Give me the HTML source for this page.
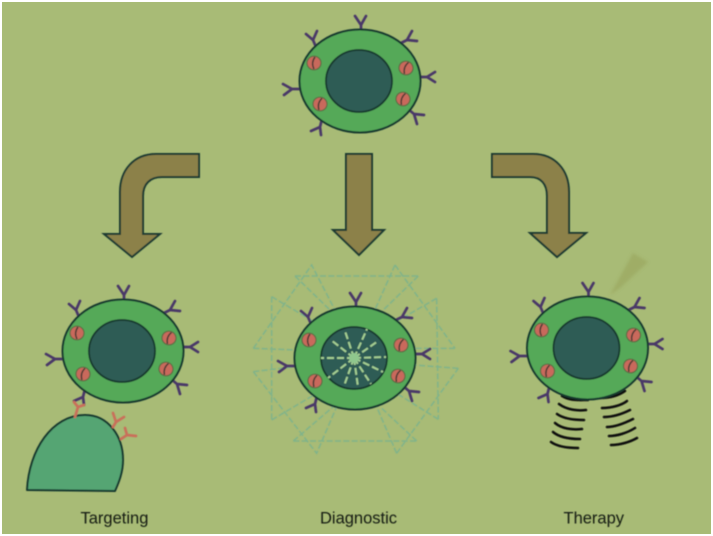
<!DOCTYPE html>
<html lang="en">
<head>
<meta charset="utf-8">
<title>Targeting, Diagnostic, Therapy</title>
<style>
html,body{margin:0;padding:0;background:#fff}
svg{display:block;width:713px;height:536px}
text{font-family:"Liberation Sans",sans-serif;font-size:16.5px;fill:#151a12}
</style>
</head>
<body>
<svg xmlns="http://www.w3.org/2000/svg" width="713" height="536" viewBox="0 0 713 536">
<defs>
<filter id="soft" x="-5%" y="-5%" width="110%" height="110%"><feGaussianBlur stdDeviation="0.45"/></filter>
<filter id="soft2" x="-30%" y="-30%" width="160%" height="160%"><feGaussianBlur stdDeviation="1.2"/></filter>
<g id="org">
<ellipse cx="0" cy="0" rx="7" ry="6.8" fill="#c9695b" stroke="#5d6a45" stroke-width="1.2"/>
<path d="M1-6C-2-2-2 2 0 6" fill="none" stroke="#4b3a35" stroke-width="1.5"/>
</g>
<g id="cell">
<g fill="none" stroke="#493768" stroke-width="2.7" stroke-linecap="round" stroke-linejoin="round">
<path d="M1-50V-56M-5-65L1-56L6-65"/>
<path d="M-44-34L-47-41M-54-47L-47-41L-43-50"/>
<path d="M41-38L47-41M52-50L47-41L57-40"/>
<path d="M60-4H67M75-9L67-4L75 1"/>
<path d="M48 28L54 33M64 34L54 33L57 43"/>
<path d="M-38 38L-40 46M-49 50L-40 46L-39 54"/>
<path d="M-60 8H-68M-77 3L-68 8L-76 14"/>
</g>
<ellipse cx="0" cy="0" rx="60.5" ry="51.5" fill="#54a958" stroke="#16392f" stroke-width="2"/>
<ellipse cx="-1" cy="0" rx="33" ry="31" fill="#2f5c54" stroke="#17382f" stroke-width="1.8"/>
<use href="#org" x="-46" y="-18"/>
<use href="#org" transform="translate(46 -13) rotate(15)"/>
<use href="#org" transform="translate(43 18) rotate(15)"/>
<use href="#org" transform="translate(-40 23) rotate(10)"/>
</g>
</defs>

<rect x="0" y="0" width="713" height="536" fill="#ffffff"/>
<rect x="2" y="2" width="709" height="532" fill="#a8bb76"/>

<g filter="url(#soft)">
<!-- top cell -->
<use href="#cell" transform="translate(360 81)"/>

<!-- arrows -->
<g fill="#8c8149" stroke="#1f3a33" stroke-width="2" stroke-linejoin="miter">
<path d="M199 154V177H162C150 177 143 184 143 196V234H160L132 257L104 234H120V192C120 170 134 154 156 154Z"/>
<path d="M346 154H372V230H384L359 255L333 230H346Z"/>
<path d="M492 154V177H530C541 177 547 184 547 196V233H530L557 257L586 233H569V192C569 170 555 154 533 154Z"/>
</g>

<!-- targeting -->
<use href="#cell" transform="translate(123 351)"/>
<path d="M27 490C29 450 52 415 85 415C108 415 123 436 123 460C123 472 119 482 115 491Z" fill="#55a573" stroke="#16392f" stroke-width="2" stroke-linejoin="round"/>
<g fill="none" stroke="#c9705a" stroke-width="2.7" stroke-linecap="round" stroke-linejoin="round">
<path d="M75 417L78 407M74 402L78 407L84 405"/>
<path d="M113 427L116 422M113 413L116 422L124 417"/>
<path d="M121 439L127 435M125 428L127 435L136 436"/>
</g>

<!-- diagnostic -->
<g transform="translate(240 260) scale(.3333)" fill="none" stroke="#80b38a" stroke-width="4.500" stroke-dasharray="18 7">
<path d="M165 48H535M160 543H530M95 110V480M590 115L595 478"/>
<path d="M95 110L230 190M95 480L230 400M590 115L460 190M595 478L470 400"/>
<path d="M40 265L215 15L290 160M465 15L645 265M465 15L400 160"/>
<path d="M40 335L230 580L290 440M470 580L655 325M470 580L410 440"/>
<path d="M40 265L170 270M40 335L165 320M645 265L520 265M655 325L520 315"/>
<path d="M165 48L270 150M535 48L430 150M160 543L280 440M530 543L420 440"/>
</g>
<use href="#cell" transform="translate(355 358)"/>
<g fill="none" stroke="#a5cf93" stroke-width="2" stroke-dasharray="7 3">
<path d="M354 358L331 340M354 358L345 331M354 358L367 329M354 358L378 341M354 358L386 357M354 358L383 372M354 358L371 384M354 358L358 387M354 358L344 386M354 358L328 378M354 358L321 358"/>
</g>
<circle cx="354" cy="358" r="5" fill="#8fc78d"/>

<!-- therapy -->
<path d="M633 253L648 262L620 288L610 295Z" fill="#9fad66" filter="url(#soft2)"/>
<g fill="none" stroke="#0e0f0c" stroke-width="2.5" stroke-linecap="round">
<path d="M562 396C570 401 578 400 588 400M600 398C610 398 618 396 625 391"/>
<path d="M559 404C567 410 578 411 586 410M602 408C612 408 622 405 627 401"/>
<path d="M557 414C564 419 575 420 584 420M604 417C612 417 622 414 630 410"/>
<path d="M555 423C562 429 573 430 582 429M607 427C615 427 625 423 633 419"/>
<path d="M553 432C560 438 571 439 580 439M609 436C617 436 627 433 635 428"/>
<path d="M551 442C558 447 569 448 578 448M611 445C620 445 630 442 637 438"/>
</g>
<use href="#cell" transform="translate(587.5 348)"/>

<text x="80.500" y="523.500">Targeting</text>
<text x="320" y="523.500">Diagnostic</text>
<text x="563.500" y="523.500">Therapy</text>
</g>
</svg>
</body>
</html>
